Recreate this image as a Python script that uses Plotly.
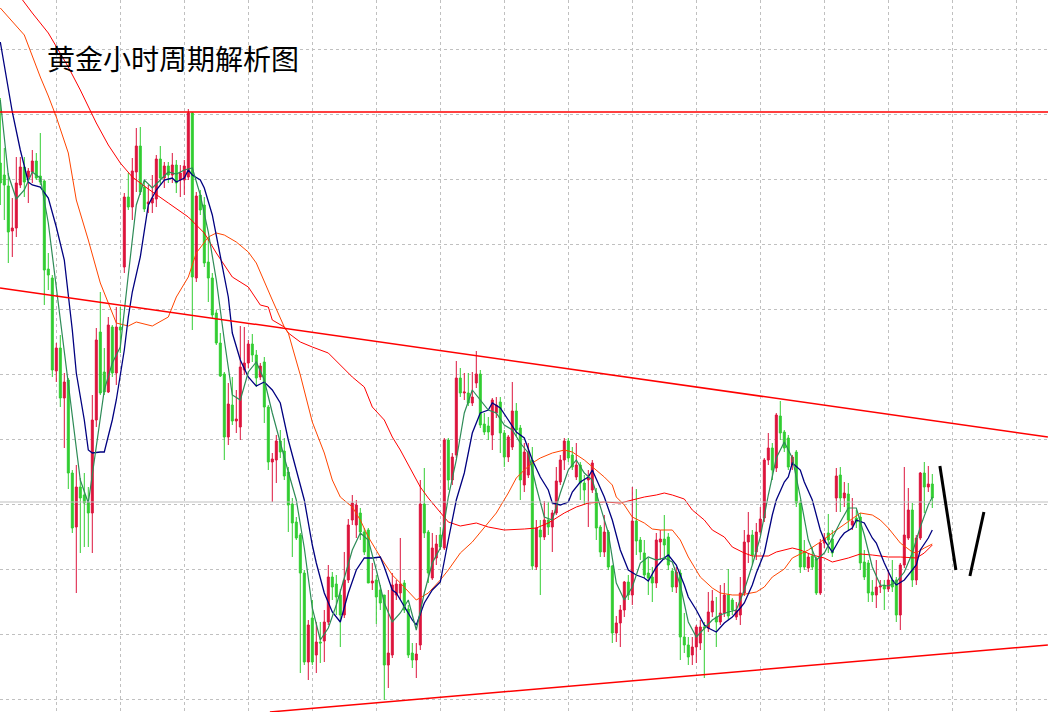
import plotly.graph_objects as go

# hourly gold candles, one per bar (bar index 0..233)
opens = [1837, 1825, 1814, 1769, 1772, 1815, 1833, 1823, 1828, 1839,
         1824, 1819, 1731, 1722, 1629, 1652, 1602, 1620, 1527, 1473,
         1513, 1505, 1498, 1487, 1580, 1668, 1628, 1608, 1673, 1627,
         1673, 1733, 1803, 1793, 1828, 1854, 1813, 1796, 1797, 1801,
         1841, 1822, 1834, 1825, 1835, 1820, 1820, 1823, 1887, 1722,
         1805, 1795, 1738, 1722, 1687, 1657, 1626, 1563, 1595, 1579,
         1573, 1630, 1637, 1656, 1645, 1623, 1638, 1593, 1538, 1540,
         1559, 1549, 1528, 1496, 1478, 1465, 1427, 1338, 1382, 1345,
         1358, 1359, 1378, 1423, 1416, 1405, 1385, 1420, 1480, 1475,
         1487, 1468, 1470, 1417, 1420, 1410, 1405, 1335, 1345, 1405,
         1407, 1417, 1391, 1347, 1340, 1355, 1496, 1468, 1422, 1442,
         1465, 1452, 1560, 1520, 1545, 1622, 1607, 1607, 1597, 1617,
         1626, 1576, 1574, 1565, 1587, 1598, 1567, 1543, 1553, 1589,
         1572, 1515, 1525, 1540, 1433, 1470, 1463, 1480, 1473, 1487,
         1518, 1540, 1559, 1545, 1523, 1535, 1517, 1520, 1510, 1507,
         1473, 1448, 1468, 1434, 1367, 1377, 1390, 1418, 1405, 1479,
         1460, 1447, 1427, 1423, 1417, 1458, 1461, 1463, 1429, 1413,
         1427, 1363, 1355, 1345, 1353, 1357, 1373, 1372, 1388, 1383,
         1378, 1387, 1405, 1400, 1383, 1385, 1407, 1458, 1465, 1448,
         1468, 1482, 1540, 1552, 1532, 1584, 1568, 1562, 1535, 1548,
         1497, 1448, 1432, 1444, 1441, 1407, 1457, 1467, 1461, 1502,
         1525, 1502, 1506, 1475, 1482, 1483, 1438, 1437, 1408, 1405,
         1413, 1415, 1411, 1420, 1420, 1385, 1435, 1462, 1490, 1420,
         1462, 1527, 1513, 1516]
highs = [1902, 1852, 1827, 1802, 1843, 1843, 1843, 1832, 1850, 1847,
         1867, 1820, 1747, 1725, 1657, 1665, 1627, 1622, 1530, 1535,
         1522, 1527, 1513, 1605, 1672, 1708, 1652, 1683, 1675, 1693,
         1693, 1807, 1827, 1842, 1872, 1873, 1818, 1815, 1825, 1845,
         1854, 1838, 1838, 1847, 1840, 1835, 1840, 1891, 1888, 1808,
         1810, 1803, 1763, 1727, 1690, 1667, 1628, 1617, 1623, 1610,
         1674, 1673, 1660, 1666, 1650, 1637, 1643, 1595, 1547, 1565,
         1570, 1562, 1533, 1502, 1483, 1467, 1430, 1380, 1400, 1378,
         1378, 1390, 1435, 1428, 1425, 1411, 1448, 1481, 1505, 1500,
         1492, 1472, 1472, 1437, 1425, 1415, 1405, 1410, 1427, 1420,
         1462, 1420, 1395, 1357, 1357, 1520, 1532, 1470, 1467, 1465,
         1473, 1562, 1562, 1547, 1639, 1632, 1627, 1627, 1628, 1649,
         1630, 1587, 1583, 1602, 1603, 1603, 1570, 1565, 1618, 1597,
         1575, 1557, 1557, 1553, 1480, 1480, 1499, 1498, 1490, 1533,
         1545, 1562, 1562, 1553, 1557, 1538, 1525, 1530, 1540, 1512,
         1475, 1485, 1470, 1435, 1384, 1395, 1419, 1425, 1513, 1511,
         1463, 1460, 1442, 1433, 1467, 1470, 1485, 1467, 1432, 1433,
         1430, 1387, 1363, 1363, 1375, 1380, 1378, 1408, 1410, 1403,
         1415, 1417, 1431, 1402, 1398, 1423, 1470, 1488, 1470, 1477,
         1493, 1542, 1567, 1557, 1587, 1599, 1570, 1565, 1545, 1550,
         1500, 1460, 1447, 1453, 1443, 1461, 1467, 1486, 1470, 1532,
         1533, 1518, 1517, 1502, 1490, 1487, 1450, 1440, 1420, 1440,
         1420, 1420, 1430, 1440, 1423, 1437, 1533, 1512, 1497, 1465,
         1528, 1538, 1534, 1526]
lows = [1795, 1780, 1737, 1743, 1763, 1812, 1803, 1797, 1817, 1820,
        1815, 1695, 1710, 1623, 1618, 1593, 1552, 1511, 1467, 1407,
        1447, 1453, 1453, 1447, 1573, 1605, 1605, 1607, 1623, 1615,
        1647, 1727, 1790, 1780, 1808, 1805, 1788, 1787, 1787, 1793,
        1815, 1812, 1817, 1817, 1807, 1803, 1805, 1820, 1670, 1718,
        1785, 1733, 1698, 1682, 1655, 1623, 1540, 1555, 1575, 1567,
        1560, 1625, 1632, 1638, 1613, 1620, 1577, 1530, 1498, 1517,
        1542, 1520, 1468, 1443, 1460, 1327, 1335, 1320, 1335, 1327,
        1337, 1338, 1375, 1400, 1385, 1353, 1382, 1417, 1475, 1462,
        1460, 1445, 1417, 1410, 1376, 1390, 1300, 1312, 1342, 1400,
        1400, 1387, 1342, 1332, 1322, 1350, 1462, 1417, 1420, 1435,
        1450, 1450, 1510, 1515, 1542, 1603, 1600, 1594, 1594, 1612,
        1572, 1565, 1560, 1550, 1582, 1547, 1533, 1538, 1550, 1564,
        1500, 1508, 1522, 1430, 1430, 1405, 1460, 1465, 1448, 1485,
        1515, 1530, 1538, 1530, 1520, 1500, 1495, 1473, 1507, 1460,
        1443, 1443, 1430, 1357, 1358, 1353, 1383, 1400, 1395, 1445,
        1440, 1422, 1405, 1398, 1412, 1440, 1440, 1430, 1408, 1407,
        1340, 1347, 1335, 1335, 1337, 1350, 1322, 1368, 1383, 1353,
        1375, 1383, 1380, 1385, 1380, 1375, 1404, 1437, 1435, 1440,
        1465, 1478, 1535, 1520, 1528, 1560, 1548, 1530, 1530, 1493,
        1427, 1430, 1428, 1430, 1405, 1405, 1452, 1447, 1443, 1488,
        1488, 1493, 1470, 1470, 1472, 1430, 1420, 1398, 1398, 1392,
        1407, 1390, 1408, 1408, 1378, 1370, 1432, 1460, 1413, 1415,
        1460, 1487, 1508, 1492]
closes = [1817, 1815, 1768, 1772, 1817, 1833, 1818, 1829, 1839, 1822,
          1818, 1730, 1725, 1630, 1652, 1602, 1618, 1527, 1472, 1513,
          1502, 1497, 1487, 1580, 1660, 1607, 1608, 1675, 1627, 1673,
          1670, 1803, 1793, 1829, 1854, 1808, 1791, 1798, 1802, 1841,
          1822, 1834, 1825, 1835, 1817, 1827, 1834, 1887, 1723, 1804,
          1790, 1737, 1722, 1685, 1657, 1624, 1563, 1596, 1579, 1581,
          1633, 1637, 1656, 1645, 1622, 1634, 1593, 1538, 1541, 1559,
          1548, 1524, 1495, 1477, 1462, 1427, 1338, 1375, 1338, 1358,
          1357, 1378, 1423, 1413, 1403, 1385, 1420, 1475, 1497, 1495,
          1468, 1448, 1417, 1419, 1403, 1397, 1335, 1347, 1415, 1416,
          1416, 1390, 1345, 1340, 1346, 1496, 1467, 1427, 1452, 1456,
          1453, 1560, 1520, 1543, 1622, 1607, 1608, 1597, 1603, 1626,
          1575, 1568, 1568, 1600, 1595, 1567, 1543, 1563, 1589, 1570,
          1520, 1548, 1548, 1434, 1472, 1463, 1480, 1473, 1487, 1519,
          1540, 1559, 1542, 1533, 1535, 1517, 1510, 1522, 1537, 1472,
          1448, 1468, 1433, 1367, 1377, 1390, 1418, 1405, 1479, 1459,
          1448, 1425, 1422, 1417, 1460, 1461, 1455, 1435, 1413, 1428,
          1363, 1355, 1343, 1353, 1373, 1373, 1372, 1388, 1399, 1378,
          1387, 1405, 1384, 1390, 1390, 1407, 1458, 1465, 1445, 1468,
          1481, 1540, 1552, 1530, 1585, 1567, 1552, 1533, 1543, 1497,
          1433, 1433, 1443, 1433, 1407, 1457, 1462, 1460, 1447, 1524,
          1502, 1507, 1480, 1479, 1478, 1437, 1423, 1407, 1405, 1413,
          1414, 1411, 1420, 1413, 1385, 1435, 1465, 1490, 1420, 1462,
          1527, 1513, 1516, 1502]

# moving averages: (bar index, value)
ma_fast_idx = [0, 2, 4, 6, 8, 10, 12, 14, 16, 18, 20, 22, 24, 26, 28, 30,
               32, 34, 36, 38, 40, 42, 44, 46, 48, 50, 52, 54, 56, 58, 60,
               62, 64, 66, 68, 70, 72, 74, 76, 78, 80, 82, 84, 86, 88, 90,
               92, 94, 96, 98, 100, 102, 104, 106, 108, 110, 112, 114, 116,
               118, 120, 122, 124, 126, 128, 130, 132, 134, 136, 138, 140,
               142, 144, 146, 148, 150, 152, 154, 156, 158, 160, 162, 164,
               166, 168, 170, 172, 174, 176, 178, 180, 182, 184, 186, 188,
               190, 192, 194, 196, 198, 200, 202, 204, 206, 208, 210, 212,
               214, 216, 218, 220, 222, 224, 226, 228, 230, 232, 233]
ma_fast = [1900, 1825, 1801, 1810, 1828, 1822, 1777, 1713, 1647, 1580,
           1520, 1497, 1553, 1610, 1637, 1653, 1725, 1795, 1820, 1812,
           1820, 1828, 1826, 1830, 1832, 1805, 1768, 1720, 1660, 1605,
           1600, 1628, 1638, 1620, 1587, 1557, 1528, 1500, 1452, 1392,
           1360, 1372, 1395, 1422, 1450, 1467, 1460, 1430, 1397, 1378,
           1387, 1400, 1370, 1407, 1437, 1452, 1503, 1540, 1587, 1610,
           1600, 1590, 1587, 1575, 1570, 1557, 1547, 1513, 1483, 1480,
           1507, 1530, 1540, 1527, 1520, 1493, 1467, 1417, 1400, 1413,
           1437, 1443, 1440, 1442, 1438, 1415, 1378, 1363, 1372, 1380,
           1385, 1388, 1390, 1410, 1435, 1463, 1505, 1542, 1558, 1542,
           1503, 1460, 1440, 1447, 1462, 1478, 1492, 1492, 1465, 1433,
           1415, 1414, 1418, 1428, 1447, 1473, 1495, 1503]

ma_mid_idx = [0, 2, 3, 5, 7, 8, 10, 12, 14, 16, 18, 19, 21, 22, 23, 25, 26,
              28, 29, 31, 32, 33, 35, 37, 39, 41, 43, 44, 46, 47, 48, 50, 51,
              53, 55, 57, 58, 60, 62, 64, 66, 68, 70, 72, 74, 76, 78, 79, 81,
              83, 85, 87, 89, 91, 93, 95, 96, 98, 99, 101, 103, 104, 106, 108,
              110, 112, 114, 116, 118, 120, 122, 123, 125, 127, 129, 131, 133,
              135, 137, 138, 140, 142, 143, 145, 147, 148, 150, 151, 153, 155,
              157, 159, 161, 162, 164, 166, 167, 169, 171, 172, 174, 176, 177,
              179, 181, 183, 185, 186, 188, 189, 191, 193, 194, 196, 197, 198,
              200, 201, 203, 205, 206, 208, 210, 211, 213, 214, 216, 218, 219,
              221, 223, 224, 226, 227, 229, 230, 232, 233]
ma_mid = [1958, 1912, 1888, 1850, 1818, 1815, 1813, 1802, 1773, 1740,
          1670, 1627, 1580, 1550, 1547, 1548, 1548, 1580, 1600, 1650,
          1683, 1708, 1743, 1795, 1810, 1820, 1822, 1818, 1822, 1830,
          1825, 1820, 1812, 1785, 1743, 1703, 1667, 1640, 1623, 1614,
          1618, 1610, 1597, 1560, 1530, 1500, 1455, 1437, 1407, 1388,
          1378, 1407, 1430, 1442, 1442, 1443, 1433, 1410, 1407, 1393,
          1380, 1375, 1397, 1410, 1418, 1460, 1500, 1527, 1567, 1587,
          1590, 1597, 1592, 1580, 1568, 1562, 1540, 1523, 1510, 1497,
          1495, 1498, 1508, 1518, 1523, 1530, 1512, 1503, 1480, 1450,
          1430, 1425, 1422, 1419, 1433, 1442, 1445, 1435, 1415, 1403,
          1390, 1375, 1372, 1368, 1377, 1383, 1392, 1397, 1415, 1427,
          1447, 1485, 1500, 1518, 1523, 1537, 1530, 1518, 1500, 1470,
          1460, 1448, 1462, 1467, 1472, 1480, 1477, 1462, 1457, 1437,
          1420, 1415, 1420, 1425, 1435, 1450, 1462, 1470]

ma_slow_idx = [0, 6, 10, 12, 14, 17, 19, 22, 25, 27, 29, 32, 34, 38, 42, 44,
               47, 49, 52, 54, 56, 59, 62, 64, 66, 68, 71, 72, 75, 78, 81, 83,
               85, 88, 90, 92, 95, 98, 100, 102, 104, 107, 110, 112, 115, 118,
               121, 124, 127, 129, 131, 133, 135, 138, 141, 143, 146, 148, 151,
               153, 154, 156, 158, 161, 163, 165, 168, 170, 172, 175, 178, 180,
               183, 185, 188, 189, 191, 193, 196, 198, 202, 205, 208, 212, 215,
               218, 220, 222, 225, 228, 229, 231, 233]
ma_slow = [1992, 1965, 1923, 1904, 1883, 1847, 1800, 1760, 1717, 1697,
           1677, 1674, 1678, 1674, 1683, 1703, 1723, 1747, 1763, 1767,
           1765, 1758, 1748, 1737, 1718, 1700, 1673, 1667, 1625, 1578,
           1547, 1520, 1503, 1493, 1480, 1463, 1443, 1425, 1417, 1408,
           1400, 1407, 1420, 1430, 1447, 1458, 1473, 1487, 1507, 1522,
           1530, 1537, 1542, 1547, 1550, 1548, 1540, 1533, 1523, 1515,
           1503, 1495, 1483, 1477, 1471, 1470, 1470, 1460, 1443, 1423,
           1412, 1407, 1405, 1405, 1407, 1408, 1413, 1423, 1431, 1442,
           1450, 1458, 1467, 1478, 1487, 1485, 1480, 1472, 1457, 1448,
           1447, 1452, 1456]

ma_long_idx = [5, 8, 12, 17, 20, 24, 27, 30, 33, 37, 42, 47, 51, 54, 58, 62,
               65, 67, 68, 71, 72, 75, 78, 82, 85, 88, 91, 93, 96, 98, 100,
               102, 105, 107, 110, 112, 115, 119, 122, 126, 131, 134, 137, 141,
               144, 147, 151, 155, 158, 161, 164, 166, 168, 171, 173, 176, 178,
               181, 183, 186, 188, 192, 194, 196, 198, 200, 203, 206, 208, 212,
               215, 218, 222, 225, 229, 231, 233]
ma_long = [2003, 1987, 1967, 1933, 1910, 1877, 1855, 1837, 1823, 1811,
           1797, 1783, 1767, 1747, 1723, 1713, 1695, 1693, 1680, 1673,
           1667, 1658, 1653, 1647, 1635, 1623, 1613, 1593, 1580, 1563,
           1550, 1535, 1513, 1502, 1487, 1478, 1474, 1477, 1473, 1470,
           1471, 1472, 1477, 1487, 1493, 1497, 1498, 1497, 1500, 1503,
           1505, 1507, 1505, 1501, 1490, 1480, 1470, 1463, 1453, 1447,
           1444, 1444, 1448, 1450, 1452, 1450, 1445, 1442, 1438, 1442,
           1446, 1445, 1443, 1443, 1442, 1447, 1455]

# drawn levels
resistance_level = 1888
bid_level = 1498
upper_trend = [(-0.075, 1712), (261.9, 1563)]
lower_trend = [(67.4, 1288), (261.9, 1355)]
sketch_down = [(234.9, 1534), (238.9, 1430)]
sketch_up = [(242.4, 1424), (245.9, 1488)]

title_text = "黄金小时周期解析图"

bars = list(range(len(closes)))

fig = go.Figure()
fig.add_trace(go.Candlestick(
    x=bars, open=opens, high=highs, low=lows, close=closes,
    increasing=dict(line=dict(color="#DC143C", width=1), fillcolor="#DC143C"),
    decreasing=dict(line=dict(color="#32CD32", width=1), fillcolor="#32CD32"),
    whiskerwidth=0, showlegend=False, hoverinfo="skip"))

for idx, vals, color, w in [(ma_long_idx, ma_long, "#FF0000", 1),
                            (ma_slow_idx, ma_slow, "#FF4500", 1),
                            (ma_mid_idx, ma_mid, "#000080", 1.3),
                            (ma_fast_idx, ma_fast, "#2E8B57", 1.2)]:
    fig.add_scatter(x=idx, y=vals, mode="lines", showlegend=False,
                    line=dict(color=color, width=w), hoverinfo="skip")

shapes = [
    dict(type="line", xref="paper", x0=0, x1=1, yref="y",
         y0=bid_level, y1=bid_level, line=dict(color="#C0C0C0", width=1.2)),
    dict(type="line", xref="paper", x0=0, x1=1, yref="y",
         y0=resistance_level, y1=resistance_level,
         line=dict(color="#FF0000", width=1.3)),
]
for seg, color, w in [(upper_trend, "#FF0000", 1.5), (lower_trend, "#FF0000", 1.5),
                      (sketch_down, "#000000", 3), (sketch_up, "#000000", 3)]:
    shapes.append(dict(type="line", xref="x", yref="y",
                       x0=seg[0][0], y0=seg[0][1], x1=seg[1][0], y1=seg[1][1],
                       line=dict(color=color, width=w)))

fig.update_layout(
    width=1048, height=712,
    margin={"r": 0, "t": 0, "l": 0, "b": 0},
    paper_bgcolor="white", plot_bgcolor="white",
    shapes=shapes,
    annotations=[dict(text=title_text, xref="paper", yref="paper",
                      x=45 / 1048, y=1 - 58 / 712, xanchor="left", yanchor="middle",
                      showarrow=False,
                      font=dict(family="Noto Sans CJK SC", size=28, color="black"))],
    xaxis=dict(range=[-0.075, 261.925], rangeslider=dict(visible=False),
               showticklabels=False, ticks="", zeroline=False, showline=False,
               showgrid=True, gridcolor="#C0C0C0", griddash="3px,3px",
               tick0=14, dtick=16),
    yaxis=dict(range=[1288, 2000], showticklabels=False, ticks="",
               zeroline=False, showline=False,
               showgrid=True, gridcolor="#C0C0C0", griddash="3px,3px",
               tick0=1950.7, dtick=65),
)

# the page body has a default 8px margin; drop it so the chart sits at the window edge
fig.write_html("out.html", config={"displayModeBar": False},
               post_script="document.body.style.margin='0';")
